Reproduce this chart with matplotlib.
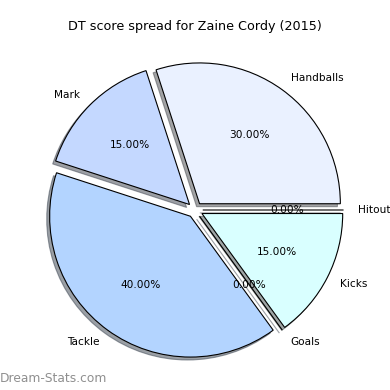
import matplotlib
matplotlib.use("Agg")
import matplotlib.pyplot as plt

labels = ["Handballs", "Mark", "Tackle", "Goals", "Kicks", "Hitout"]
shares = [30, 15, 40, 0, 15, 0]
colours = ["#eaf1ff", "#c4d8ff", "#b3d4ff", "#c8e0ff", "#d9ffff", "#e0e8ff"]
explode = [0.055] * len(labels)

fig = plt.figure(figsize=(3.9, 3.9), dpi=100)
# pie radius ~141 px, centred near (195, 210) from the top
ax = fig.add_axes([19 / 390, 4 / 390, 352 / 390, 352 / 390])

wedges, texts, autotexts = ax.pie(
    shares,
    labels=labels,
    colors=colours,
    explode=explode,
    autopct="%.2f%%",
    shadow={"ox": -0.015, "oy": -0.015},
    startangle=0,
    wedgeprops={"edgecolor": "black", "linewidth": 0.8},
    textprops={"fontsize": 7.6},
)
ax.set_aspect("equal")
ax.set_title("DT score spread for Zaine Cordy (2015)", fontsize=9.2, pad=3)

fig.text(0.0, 0.013, "Dream-Stats.com", fontsize=8.8, color="#8f8f8f",
         ha="left", va="bottom")

fig.savefig("out.png", dpi=100)
